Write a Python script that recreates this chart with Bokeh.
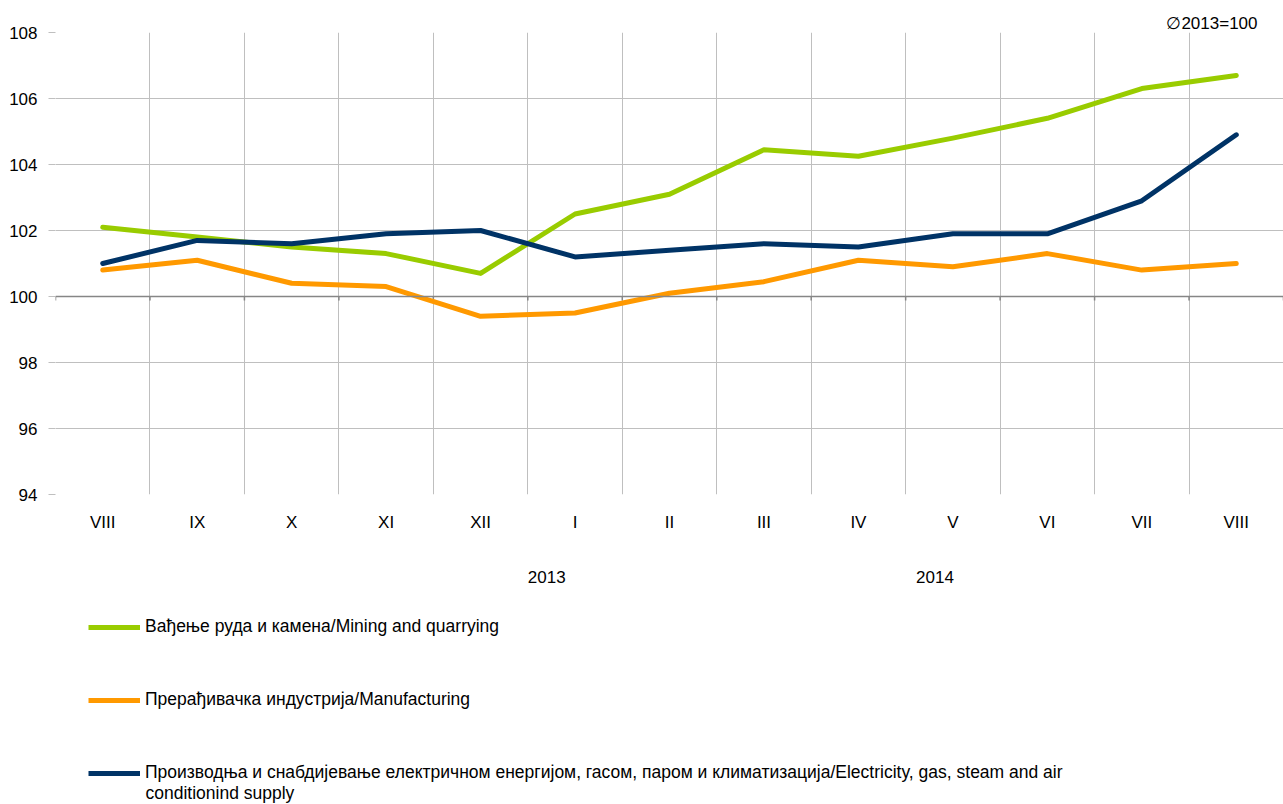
from bokeh.plotting import figure
from bokeh.layouts import column
from bokeh.models import (FixedTicker, LinearAxis, Range1d, Span, Legend, LegendItem, Label)
from bokeh.embed import file_html
from bokeh.resources import INLINE

months = ["VIII", "IX", "X", "XI", "XII", "I", "II", "III", "IV", "V", "VI", "VII", "VIII"]
mining = [102.1, 101.8, 101.5, 101.3, 100.7, 102.5, 103.1, 104.45, 104.25, 104.8, 105.4, 106.3, 106.7]
manufacturing = [100.8, 101.1, 100.4, 100.3, 99.4, 99.5, 100.1, 100.45, 101.1, 100.9, 101.3, 100.8, 101.0]
electricity = [101.0, 101.7, 101.6, 101.9, 102.0, 101.2, 101.4, 101.6, 101.5, 101.9, 101.9, 102.9, 104.9]
years = ["2013", "2014"]
year_pos = [5.2, 9.31]
y_ticks = [94, 96, 98, 100, 102, 104, 106, 108]

names = ["Вађење руда и камена/Mining and quarrying",
         "Прерађивачка индустрија/Manufacturing",
         "Производња и снабдијевање електричном енергијом, гасом, паром и климатизација/Electricity, gas, steam and air"]
name3_cont = "conditionind supply"
colors = ["#99CC00", "#FF9900", "#003366"]
series = [mining, manufacturing, electricity]

FONT = "Liberation Sans"
FS = "17px"
LFS = "17.5px"
GRID = "#BFBFBF"
AXIS100 = "#868686"

p = figure(width=1283, height=600, output_backend="svg", toolbar_location=None,
           x_range=Range1d(0, 13), y_range=Range1d(94, 108),
           min_border_left=55, min_border_right=0, min_border_top=32, min_border_bottom=106)
p.outline_line_color = None
p.background_fill_color = "white"

p.title.text = "∅2013=100"
p.title.align = "right"
p.title.offset = 26
p.title.standoff = 0
p.title.text_font = FONT
p.title.text_font_size = FS
p.title.text_font_style = "normal"
p.title.text_color = "#000000"

xs = [i + 0.5 for i in range(len(months))]
bounds = list(range(len(months) + 1))

# axes
xa = p.xaxis[0]
xa.ticker = FixedTicker(ticks=xs)
xa.major_label_overrides = {x: m for x, m in zip(xs, months)}
xa.axis_line_color = None
xa.major_tick_line_color = None
xa.minor_tick_line_color = None
xa.major_label_standoff = 12
xa.major_label_text_font = FONT
xa.major_label_text_font_size = FS
xa.major_label_text_color = "#000000"

ya = p.yaxis[0]
ya.ticker = FixedTicker(ticks=y_ticks)
ya.axis_line_color = None
ya.major_tick_line_color = GRID
ya.major_tick_out = 7
ya.major_tick_in = 0
ya.minor_tick_line_color = None
ya.major_label_standoff = 11
ya.major_label_text_font = FONT
ya.major_label_text_font_size = FS
ya.major_label_text_color = "#000000"

year_axis = LinearAxis(ticker=FixedTicker(ticks=year_pos),
                       major_label_overrides={x: y for x, y in zip(year_pos, years)})
year_axis.axis_line_color = None
year_axis.major_tick_line_color = None
year_axis.minor_tick_line_color = None
year_axis.major_label_standoff = 30
year_axis.major_label_text_font = FONT
year_axis.major_label_text_font_size = FS
year_axis.major_label_text_color = "#000000"
p.add_layout(year_axis, "below")

p.xgrid.ticker = FixedTicker(ticks=bounds)
p.xgrid.grid_line_color = GRID
p.ygrid.ticker = FixedTicker(ticks=y_ticks)
p.ygrid.grid_line_color = GRID

p.add_layout(Span(location=100, dimension="width", line_color=AXIS100, line_width=1.5))
p.segment(x0=bounds, y0=[100] * len(bounds), x1=bounds, y1=[99.88] * len(bounds),
          line_color=AXIS100, line_width=1.5)

for vals, c in zip(series, colors):
    p.line(xs, vals, line_color=c, line_width=5, line_join="round", line_cap="round")

# legend panel (separate figure under the chart; its lines fall outside its own frame)
lg = figure(width=1283, height=204, output_backend="svg", toolbar_location=None,
            x_range=Range1d(0, 13), y_range=Range1d(0, 1),
            x_axis_type=None, y_axis_type=None,
            min_border_left=55, min_border_right=0, min_border_top=0, min_border_bottom=0)
lg.outline_line_color = None
lg.xgrid.visible = False
lg.ygrid.visible = False
lg_renderers = [lg.line(xs, vals, line_color=c, line_width=5) for vals, c in zip(series, colors)]

legend = Legend(items=[LegendItem(label=n, renderers=[r]) for n, r in zip(names, lg_renderers)],
                location=(33, 21), orientation="vertical")
legend.border_line_color = None
legend.background_fill_alpha = 0
legend.padding = 0
legend.margin = 0
legend.spacing = 52
legend.glyph_width = 52
legend.glyph_height = 20
legend.label_height = 20
legend.label_standoff = 5
legend.label_text_font = FONT
legend.label_text_font_size = LFS
legend.label_text_color = "#000000"
lg.add_layout(legend, "center")

lg.add_layout(Label(x=90, y=12, x_units="screen", y_units="screen", text=name3_cont,
                    text_align="left", text_baseline="middle", text_font=FONT,
                    text_font_size=LFS, text_color="#000000"))

layout = column(p, lg, spacing=0)
open("out.html", "w").write(file_html(layout, INLINE))
